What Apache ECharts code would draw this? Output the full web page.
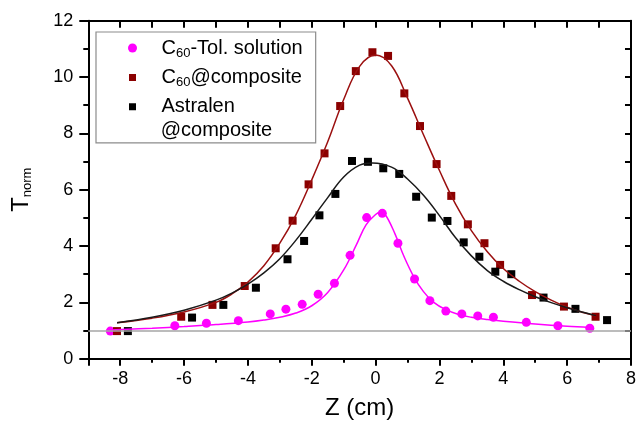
<!DOCTYPE html>
<html>
<head>
<meta charset="utf-8">
<title>Tnorm vs Z</title>
<script src="https://cdn.jsdelivr.net/npm/echarts@6/dist/echarts.min.js"></script>
<style>
  html, body { margin: 0; padding: 0; background: #fff; }
  #chart { width: 639px; height: 428px; }
</style>
</head>
<body>
<div id="chart"></div>
<script>
const solZ = [-8.31, -6.29, -5.30, -4.30, -3.30, -2.81, -2.30, -1.80, -1.29, -0.80, -0.28, 0.21, 0.70, 1.22, 1.70, 2.20, 2.70, 3.20, 3.69, 4.72, 5.71, 6.71];
const solT = [0.98, 1.17, 1.26, 1.35, 1.59, 1.76, 1.93, 2.29, 2.68, 3.67, 5.01, 5.16, 4.10, 2.83, 2.06, 1.69, 1.59, 1.52, 1.47, 1.29, 1.17, 1.08];

const compZ = [-8.10, -6.09, -5.11, -4.10, -3.13, -2.60, -2.10, -1.60, -1.11, -0.62, -0.10, 0.39, 0.90, 1.39, 1.91, 2.37, 2.89, 3.41, 3.90, 4.90, 5.90, 6.89];
const compT = [0.98, 1.49, 1.91, 2.58, 3.92, 4.90, 6.19, 7.29, 8.97, 10.21, 10.88, 10.75, 9.42, 8.26, 6.91, 5.78, 4.77, 4.10, 3.33, 2.26, 1.85, 1.49];

const astZ = [-7.76, -5.75, -4.77, -3.75, -2.76, -2.24, -1.76, -1.26, -0.74, -0.24, 0.24, 0.74, 1.27, 1.76, 2.25, 2.76, 3.25, 3.75, 4.25, 5.26, 6.26, 7.25];
const astT = [0.98, 1.46, 1.91, 2.52, 3.53, 4.18, 5.09, 5.85, 7.02, 6.99, 6.76, 6.56, 5.75, 5.01, 4.89, 4.13, 3.62, 3.09, 3.00, 2.17, 1.77, 1.37];

// fitted curves
const solFitZ = [-8.3, -7, -6, -5, -4, -3.5, -3, -2.5, -2, -1.5, -1, -0.6, -0.3, 0, 0.15, 0.3, 0.6, 0.9, 1.2, 1.5, 1.8, 2.2, 2.6, 3, 3.5, 4, 5, 6, 6.7];
const solFitT = [1.02, 1.08, 1.14, 1.21, 1.30, 1.37, 1.47, 1.62, 1.88, 2.35, 3.15, 4.05, 4.75, 5.12, 5.20, 5.12, 4.45, 3.60, 2.90, 2.38, 2.02, 1.74, 1.57, 1.47, 1.39, 1.33, 1.23, 1.15, 1.11];

const compFitZ = [-8.1, -7, -6, -5, -4.5, -4, -3.5, -3, -2.5, -2, -1.5, -1, -0.5, 0, 0.5, 1, 1.5, 2, 2.5, 3, 3.5, 4, 4.5, 5, 5.5, 6, 6.5, 6.9];
const compFitT = [1.28, 1.44, 1.66, 2.00, 2.30, 2.72, 3.30, 4.10, 5.10, 6.35, 7.70, 9.20, 10.38, 10.78, 10.40, 9.25, 7.95, 6.68, 5.50, 4.55, 3.80, 3.20, 2.75, 2.38, 2.08, 1.83, 1.64, 1.52];

const astFitZ = [-8.1, -7, -6, -5, -4.5, -4, -3.5, -3, -2.5, -2, -1.5, -1, -0.5, -0.1, 0.5, 1, 1.5, 2, 2.5, 3, 3.5, 4, 4.5, 5, 5.5, 6, 6.5, 6.9];
const astFitT = [1.28, 1.47, 1.72, 2.08, 2.33, 2.65, 3.05, 3.55, 4.20, 4.95, 5.72, 6.45, 6.87, 6.95, 6.80, 6.38, 5.80, 5.08, 4.30, 3.65, 3.13, 2.75, 2.45, 2.20, 1.99, 1.81, 1.65, 1.53];

const names = ['C60-Tol. solution', 'C60@composite', 'Astralen@composite'];
const legendText = {
  'C60-Tol. solution': '{gap| }{b|C}{s|60}{b|-Tol. solution}',
  'C60@composite': '{gap| }{b|C}{s|60}{b|@composite}',
  'Astralen@composite': '{gap| }{b|Astralen}'
};

const font = 'Liberation Sans, Arial, sans-serif';
const zip = (xs, ys) => xs.map((x, i) => [x, ys[i]]);

const black = { color: '#000', width: 2 };

const chart = echarts.init(document.getElementById('chart'));

const option = {
  animation: false,
  backgroundColor: '#fff',
  grid: { left: 88.3, right: 1.3, top: 20.7, bottom: 69.3 },
  legend: {
    orient: 'vertical',
    left: 96,
    top: 32,
    itemWidth: 9,
    itemHeight: 9,
    itemGap: 5.4,
    padding: [4, 13, 24, 31],
    borderColor: '#8c8c8c',
    borderWidth: 1.2,
    selectedMode: false,
    data: [
      { name: names[0], icon: 'circle' },
      { name: names[1], icon: 'rect', itemStyle: { borderColor: '#fff', borderWidth: 2 } },
      { name: names[2], icon: 'rect', itemStyle: { borderColor: '#fff', borderWidth: 2 } }
    ],
    formatter: name => legendText[name],
    textStyle: {
      fontSize: 20,
      lineHeight: 24,
      color: '#000',
      fontFamily: font,
      rich: {
        gap: { width: 19.5 },
        b: { fontSize: 20, lineHeight: 24, color: '#000', fontFamily: font },
        s: { fontSize: 13, lineHeight: 7, verticalAlign: 'bottom', color: '#000', fontFamily: font }
      }
    }
  },
  // second line of the last legend entry
  graphic: [{
    type: 'text',
    x: 160.7,
    y: 130.7,
    silent: true,
    style: { text: '@composite', fontSize: 20, fontFamily: font, fill: '#000', verticalAlign: 'middle' }
  }],
  xAxis: [
    {
      type: 'value', position: 'bottom', min: -9, max: 8,
      minInterval: 2, maxInterval: 2, splitNumber: 8,
      axisLine: { onZero: false, lineStyle: black },
      axisTick: { length: 7, lineStyle: black },
      minorTick: { show: true, splitNumber: 2, length: 4, lineStyle: black },
      splitLine: { show: false },
      axisLabel: { margin: 11, fontSize: 18, color: '#000', fontFamily: font, showMinLabel: false },
      name: 'Z (cm)', nameLocation: 'middle', nameGap: 38,
      nameTextStyle: { fontSize: 24, color: '#000', fontFamily: font }
    },
    {
      type: 'value', position: 'top', min: -9, max: 8,
      minInterval: 1, maxInterval: 1, splitNumber: 17,
      axisLine: { onZero: false, lineStyle: black },
      axisTick: { inside: true, length: 7, lineStyle: black },
      axisLabel: { show: false },
      splitLine: { show: false }
    }
  ],
  yAxis: [
    {
      type: 'value', position: 'left', min: 0, max: 12, interval: 2,
      axisLine: { onZero: false, lineStyle: black },
      axisTick: { length: 9, lineStyle: black },
      minorTick: { show: true, splitNumber: 2, length: 5, lineStyle: black },
      splitLine: { show: false },
      axisLabel: { margin: 15, fontSize: 18, color: '#000', fontFamily: font },
      name: '{t|T}{s|norm}', nameLocation: 'middle', nameGap: 54,
      nameTextStyle: {
        rich: {
          t: { fontSize: 24, lineHeight: 26, color: '#000', fontFamily: font },
          s: { fontSize: 13, lineHeight: 8, verticalAlign: 'bottom', color: '#000', fontFamily: font }
        }
      }
    },
    {
      type: 'value', position: 'right', min: 0, max: 12, interval: 1,
      axisLine: { onZero: false, lineStyle: black },
      axisTick: { inside: true, length: 6, lineStyle: black },
      axisLabel: { show: false },
      splitLine: { show: false }
    }
  ],
  series: [
    {
      name: 'fit solution', type: 'line', data: zip(solFitZ, solFitT),
      showSymbol: false, smooth: 0.4,
      lineStyle: { color: '#ff00ff', width: 1.5 },
      markLine: {
        silent: true, symbol: ['none', 'none'], label: { show: false },
        lineStyle: { color: '#a6a6a6', width: 1.5, type: 'solid' },
        data: [{ yAxis: 1 }]
      }
    },
    {
      name: 'fit composite', type: 'line', data: zip(compFitZ, compFitT),
      showSymbol: false, smooth: 0.4,
      lineStyle: { color: '#9b1010', width: 1.5 }
    },
    {
      name: 'fit astralen', type: 'line', data: zip(astFitZ, astFitT),
      showSymbol: false, smooth: 0.4,
      lineStyle: { color: '#1a1a1a', width: 1.5 }
    },
    {
      name: names[0], type: 'scatter', data: zip(solZ, solT),
      symbol: 'circle', symbolSize: 9,
      itemStyle: { color: '#ff00ff', opacity: 1 }
    },
    {
      name: names[1], type: 'scatter', data: zip(compZ, compT),
      symbol: 'rect', symbolSize: 8,
      itemStyle: { color: '#8b0000', opacity: 1 }
    },
    {
      name: names[2], type: 'scatter', data: zip(astZ, astT),
      symbol: 'rect', symbolSize: 8,
      itemStyle: { color: '#000', opacity: 1 }
    }
  ]
};

chart.setOption(option);
</script>
</body>
</html>
